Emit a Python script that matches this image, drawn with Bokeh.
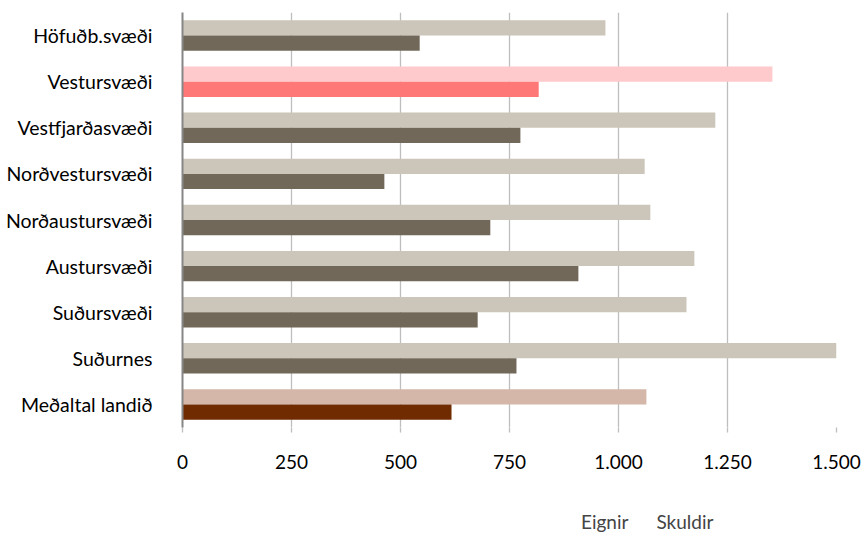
from bokeh.plotting import figure
from bokeh.layouts import column
from bokeh.models import ColumnDataSource, FactorRange, Range1d, Legend, LegendItem, CustomJSTickFormatter, FixedTicker
from bokeh.transform import dodge
from bokeh.embed import file_html
from bokeh.resources import INLINE

regions = ["Höfuðb.svæði", "Vestursvæði", "Vestfjarðasvæði", "Norðvestursvæði",
           "Norðaustursvæði", "Austursvæði", "Suðursvæði", "Suðurnes", "Meðaltal landið"]
eignir = [970, 1353, 1222, 1060, 1073, 1174, 1156, 1509, 1064]
skuldir = [544, 817, 775, 463, 706, 908, 677, 766, 617]
x_ticks = [0, 250, 500, 750, 1000, 1250, 1500]
series_names = ["Eignir", "Skuldir"]

EIGNIR_C = "#CCC5B9"
SKULDIR_C = "#726859"
eignir_colors = [EIGNIR_C, "#FFCACB", EIGNIR_C, EIGNIR_C, EIGNIR_C, EIGNIR_C, EIGNIR_C, EIGNIR_C, "#D4B7A9"]
skuldir_colors = [SKULDIR_C, "#FF7878", SKULDIR_C, SKULDIR_C, SKULDIR_C, SKULDIR_C, SKULDIR_C, SKULDIR_C, "#712B00"]

src = ColumnDataSource(dict(region=regions, eignir=eignir, skuldir=skuldir,
                            ec=eignir_colors, sc=skuldir_colors))

FONT = "Lato"

p = figure(width=861, height=505, output_backend="svg", toolbar_location=None,
           y_range=FactorRange(factors=list(reversed(regions))),
           x_range=Range1d(0, 1500))
p.min_border_left = 182
p.min_border_top = 12
p.min_border_right = 25
p.min_border_bottom = 78
p.outline_line_color = None

p.hbar(y=dodge("region", 0.165, range=p.y_range), right="eignir", left=0, height=0.33,
       source=src, fill_color="ec", line_color=None)
p.hbar(y=dodge("region", -0.165, range=p.y_range), right="skuldir", left=0, height=0.33,
       source=src, fill_color="sc", line_color=None)

p.ygrid.grid_line_color = None
p.xgrid.grid_line_color = "#BEBEBE"
p.xgrid.grid_line_width = 1.3
p.xgrid.ticker = FixedTicker(ticks=x_ticks)

p.xaxis.ticker = FixedTicker(ticks=x_ticks)
p.xaxis.formatter = CustomJSTickFormatter(code="return tick.toString().replace(/\\B(?=(\\d{3})+(?!\\d))/g, '.');")
p.xaxis.axis_line_color = None
p.xaxis.major_tick_line_color = "#BEBEBE"
p.xaxis.major_tick_line_width = 1.3
p.xaxis.major_tick_out = 5
p.xaxis.major_tick_in = 0
p.xaxis.minor_tick_line_color = None
p.xaxis.major_label_standoff = 22
p.xaxis.major_label_text_font = FONT
p.xaxis.major_label_text_font_size = "19px"
p.xaxis.major_label_text_color = "#000000"

p.yaxis.axis_line_color = "#868686"
p.yaxis.axis_line_width = 2
p.yaxis.major_tick_line_color = None
p.yaxis.minor_tick_line_color = None
p.yaxis.major_label_standoff = 24
p.yaxis.major_label_text_font = FONT
p.yaxis.major_label_text_font_size = "19.5px"
p.yaxis.major_label_text_color = "#000000"

# legend strip below the chart
lg = figure(width=861, height=30, output_backend="svg", toolbar_location=None,
            x_axis_type=None, y_axis_type=None,
            x_range=Range1d(0, 1), y_range=Range1d(0, 1))
lg.min_border_left = 0
lg.min_border_right = 0
lg.min_border_top = 0
lg.min_border_bottom = 0
lg.outline_line_color = None
lg.xgrid.grid_line_color = None
lg.ygrid.grid_line_color = None
empty = ColumnDataSource(dict(y=[], right=[]))
le = lg.hbar(y="y", right="right", left=0, height=0.5, source=empty, fill_color=EIGNIR_C, line_color=None)
ls = lg.hbar(y="y", right="right", left=0, height=0.5, source=empty, fill_color=SKULDIR_C, line_color=None)

legend = Legend(items=[LegendItem(label=series_names[0], renderers=[le]),
                       LegendItem(label=series_names[1], renderers=[ls])],
                orientation="horizontal", location=(383, 2),
                label_text_font=FONT, label_text_font_size="19px",
                glyph_width=11, glyph_height=11, label_standoff=5, spacing=12,
                padding=0, margin=0, border_line_color=None, background_fill_alpha=0)
lg.add_layout(legend)

layout = column(p, lg, spacing=0)
open("out.html", "w").write(file_html(layout, INLINE))
